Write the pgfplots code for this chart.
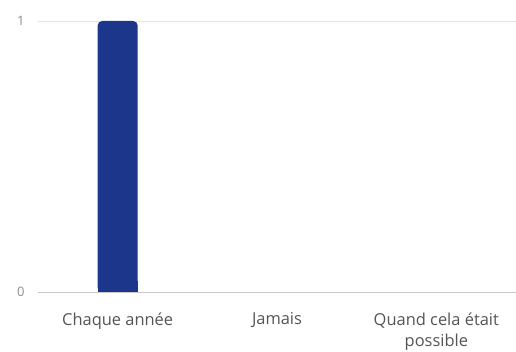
\documentclass[border=0pt]{standalone}
\usepackage{pgfplots}
\pgfplotsset{compat=1.18}
\usepackage{fontspec}
\setmainfont{Open Sans}
\definecolor{barblue}{RGB}{28,54,140}
\definecolor{txt}{RGB}{85,85,85}
\definecolor{ticktxt}{RGB}{140,140,140}
\definecolor{gridc}{RGB}{228,228,228}
\definecolor{basec}{RGB}{200,200,200}
\begin{document}
\begin{tikzpicture}
\path[use as bounding box] (-38bp,-60bp) rectangle (478bp,292bp);
\begin{axis}[
  at={(0,0)}, anchor=south west,
  scale only axis, width=478bp, height=271bp,
  xmin=-0.5, xmax=2.5, ymin=0, ymax=1,
  axis line style={draw=none},
  xtick={0,1,2},
  xticklabels={Chaque année, Jamais, {Quand cela était\\possible}},
  xticklabel style={font=\fontsize{16.5}{21}\selectfont, text=txt, align=center, yshift=-17bp},
  ytick={0,1},
  yticklabel style={font=\fontsize{13}{15}\selectfont, text=ticktxt, xshift=-10bp},
  /pgf/number format/assume math mode=true,
  major tick length=0pt,
  ymajorgrids, grid style={draw=gridc, line width=0.8pt},
  clip=false,
  ybar, bar width=40bp, bar shift=0pt,
]
\addplot[fill=barblue, draw=none, rounded corners=4.5bp] coordinates {(0,1)};
\addplot[fill=barblue, draw=none] coordinates {(0,0.04)};
\draw[basec, line width=0.8pt] (axis cs:-0.5,0) -- (axis cs:2.5,0);
\end{axis}
\end{tikzpicture}
\end{document}
